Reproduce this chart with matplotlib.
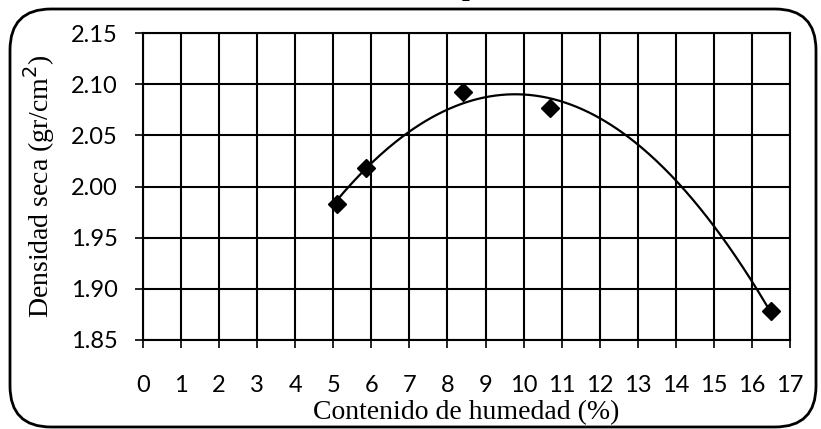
import numpy as np
import matplotlib
matplotlib.use("Agg")
import matplotlib.pyplot as plt
from matplotlib.patches import FancyBboxPatch

humedad = [5.1, 5.85, 8.4, 10.7, 16.5]
densidad = [1.983, 2.018, 2.092, 2.077, 1.878]
x_ticks = list(range(0, 18))
y_ticks = [1.85, 1.90, 1.95, 2.00, 2.05, 2.10, 2.15]

fig = plt.figure(figsize=(8.21, 4.29), dpi=100)
ax = fig.add_axes([143/821, 1-340/429, (790-143)/821, (340-33)/429])

coef = np.polyfit(humedad, densidad, 2)
xs = np.linspace(min(humedad), max(humedad), 300)
ax.plot(xs, np.polyval(coef, xs), color='black', lw=1.6, zorder=3)
ax.plot(humedad, densidad, linestyle='none', marker='D', ms=9, mfc='black', mec='black', zorder=4)

ax.set_xlim(0, 17)
ax.set_ylim(1.85, 2.15)
ax.set_xticks(x_ticks)
ax.set_yticks(y_ticks)
ax.set_yticklabels([f"{v:.2f}" for v in y_ticks])
ax.grid(True, color='black', lw=1.5)
for s in ax.spines.values():
    s.set_linewidth(1.5)
ax.tick_params(axis='both', direction='out', length=6, width=1.2, labelsize=17)
ax.tick_params(axis='x', pad=19)
ax.tick_params(axis='y', pad=12)
for lab in ax.get_xticklabels() + ax.get_yticklabels():
    lab.set_family('Lato')
ax.set_xlabel('Contenido de humedad (%)', family='Liberation Serif', fontsize=20, labelpad=3)
ax.set_ylabel('Densidad seca (gr/cm$^2$)', family='Liberation Serif', fontsize=20, labelpad=10)

fig.text(0.53, 1 + 5/429, 'Curva de compactación', ha='center', va='baseline',
         family='Liberation Serif', fontsize=20, fontweight='bold')

box = FancyBboxPatch((10/821, 2/429), (816-10)/821, (420-2)/429,
                     boxstyle='round,pad=0,rounding_size=0.05',
                     transform=fig.transFigure, fill=False, ec='black', lw=2.0,
                     mutation_aspect=821/429)
fig.patches.append(box)

fig.savefig('out.png', dpi=100)
